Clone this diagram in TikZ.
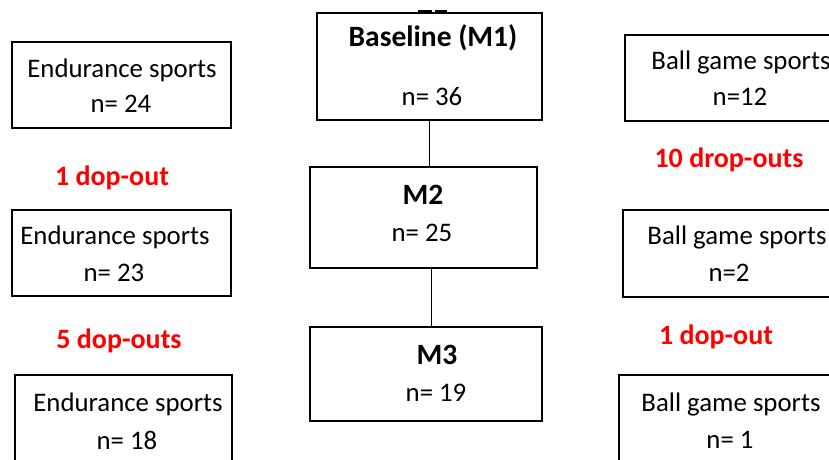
\documentclass[tikz,border=0pt]{standalone}
\usepackage{fontspec}
\setmainfont{Carlito}
\usepackage{tikz}
\usetikzlibrary{positioning}
\definecolor{dropred}{HTML}{FF0000}

\begin{document}
\begin{tikzpicture}[x=1pt,y=-1pt,
  box/.style={draw, line width=1.8pt, inner sep=0pt},
  txt/.style={font=\fontsize{26.8}{30}\selectfont, inner sep=0pt},
  hd/.style={font=\fontsize{29.5}{33}\selectfont\bfseries, inner sep=0pt},
  drop/.style={font=\fontsize{28}{32}\selectfont\bfseries, text=dropred, inner sep=0pt}]
  \useasboundingbox (0,0) rectangle (829,459);
  \clip (0,0) rectangle (829,459);

  % Middle column
  \node[box, minimum width=225, minimum height=107] (base) at (429.5,66.5) {};
  \node[hd] (baset) at (433,38) {Baseline (M1)};
  \node[txt] (basen) at (432,97) {n= 36};
  \draw[line width=3pt] (418,11.5) -- (432,11.5) (435,11.5) -- (447,11.5);

  \node[box, minimum width=227, minimum height=101] (m2) at (423.5,217.5) {};
  \node[hd] (m2t) at (423,195) {M2};
  \node[txt] (m2n) at (422,233) {n= 25};

  \node[box, minimum width=232, minimum height=94] (m3) at (426,374) {};
  \node[hd] (m3t) at (437,355) {M3};
  \node[txt] (m3n) at (436,393) {n= 19};

  \draw[thin] (base.south) -- (base.south |- m2.north);
  \draw[thin] ([xshift=2pt]base.south |- m2.south) -- ([xshift=2pt]base.south |- m3.north);

  % Endurance sports
  \node[box, minimum width=219, minimum height=86] (end1) at (121.5,85) {};
  \node[txt] (end1t) at (122,70) {Endurance sports};
  \node[txt] (end1n) at (121,104) {n= 24};

  \node[box, minimum width=219, minimum height=86] (end2) at (121.5,253) {};
  \node[txt] (end2t) at (115,237) {Endurance sports};
  \node[txt] (end2n) at (114,273) {n= 23};

  \node[box, minimum width=217, minimum height=86] (end3) at (123.5,418) {};
  \node[txt] (end3t) at (128,404) {Endurance sports};
  \node[txt] (end3n) at (127,440) {n= 18};

  % Ball game sports
  \node[box, minimum width=220, minimum height=86] (ball1) at (735,78) {};
  \node[txt] (ball1t) at (741,62) {Ball game sports};
  \node[txt] (ball1n) at (740,97) {n=12};

  \node[box, minimum width=220, minimum height=87] (ball2) at (733,253.5) {};
  \node[txt] (ball2t) at (737,237) {Ball game sports};
  \node[txt] (ball2n) at (729,273) {n=2};

  \node[box, minimum width=220, minimum height=86] (ball3) at (729,418) {};
  \node[txt] (ball3t) at (731,404) {Ball game sports};
  \node[txt] (ball3n) at (730,440) {n= 1};

  % Drop-outs
  \node[drop] (dropA) at (112,178) {1 dop-out};
  \node[drop] (dropB) at (119,341) {5 dop-outs};
  \node[drop] (dropC) at (729,160) {10 drop-outs};
  \node[drop] (dropD) at (716,337) {1 dop-out};
\end{tikzpicture}
\end{document}
